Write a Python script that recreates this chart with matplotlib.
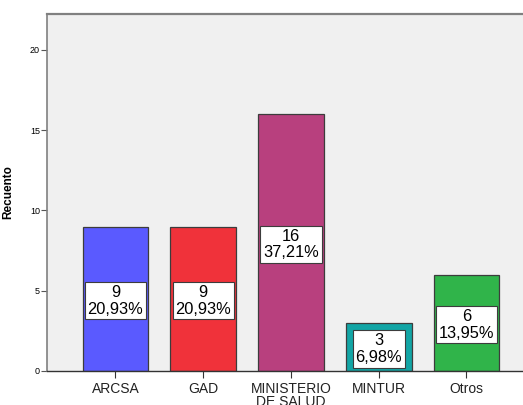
import matplotlib.pyplot as plt

# data
categories = ["ARCSA", "GAD", "MINISTERIO\nDE SALUD", "MINTUR", "Otros"]
counts = [9, 9, 16, 3, 6]
percents = ["20,93%", "20,93%", "37,21%", "6,98%", "13,95%"]
bar_colors = ["#5a5aff", "#f0323a", "#b8407e", "#12a5a5", "#30b44a"]

plt.rcParams['font.family'] = ['Liberation Sans', 'DejaVu Sans']

fig = plt.figure(figsize=(5.23, 4.05), dpi=100)
ax = fig.add_axes([47 / 523, 34 / 405, 480 / 523, 357 / 405])
ax.set_facecolor("#f0f0f0")

x = list(range(len(categories)))
ax.bar(x, counts, width=0.75, color=bar_colors, edgecolor="#3c3c3c", linewidth=0.9, zorder=2)

# value labels in the middle of each bar
for xi, c, p in zip(x, counts, percents):
    ax.text(xi, c / 2 - 0.12, f"{c}\n{p}", ha="center", va="center", fontsize=11.8,
            linespacing=1.15, zorder=3,
            bbox=dict(boxstyle="square,pad=0.17", facecolor="white", edgecolor="#3c3c3c", linewidth=0.8))

ax.set_xlim(-0.78, 4.69)
ax.set_ylim(0, 22.24)
ax.set_yticks([0, 5, 10, 15, 20])
ax.set_xticks(x)
ax.set_xticklabels(categories, fontsize=10, linespacing=0.9, color="#222222")
ax.tick_params(axis="y", labelsize=6.5, length=4, width=0.8, color="#555555", pad=1)
ax.tick_params(axis="x", length=5, width=0.8, color="#333333", pad=3)

ax.set_ylabel("Recuento", fontsize=8.5, fontweight="bold")
ax.yaxis.set_label_coords(-0.069, 0.5)

ax.spines["right"].set_visible(False)
ax.spines["top"].set_color("#808080")
ax.spines["top"].set_linewidth(1.6)
ax.spines["left"].set_color("#808080")
ax.spines["left"].set_linewidth(1.2)
ax.spines["bottom"].set_color("#333333")
ax.spines["bottom"].set_linewidth(1.0)

fig.savefig("out.png", dpi=100)
